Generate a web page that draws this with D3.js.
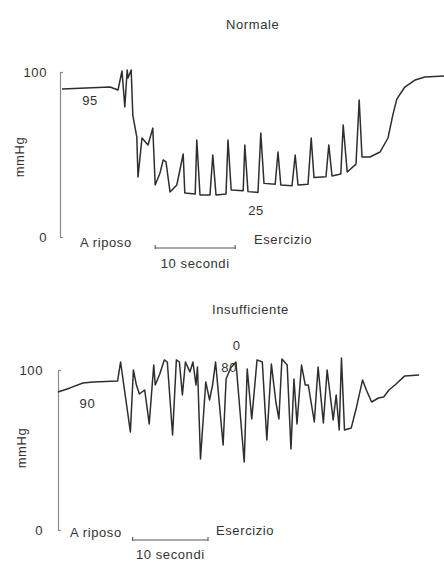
<!DOCTYPE html>
<meta charset="utf-8">
<html>
<head>
<style>
  body { margin: 0; background: #fff; }
  svg text { font-family: "Liberation Sans", Arial, sans-serif; font-size: 13px; letter-spacing: 0.6px; fill: #333; }
  .trace { fill: none; stroke: #2e2e2e; stroke-width: 1.5; stroke-linejoin: round; }
  .axis path, .axis line { stroke: #8a8a8a; stroke-width: 1.2; }
  .bar { stroke: #555; stroke-width: 1.1; }
</style>
<script src="https://d3js.org/d3.v7.min.js"></script>
</head>
<body>
<svg width="444" height="561"></svg>
<script>

// pressure values (s, mmHg)
var topTime = [0.25, 6.25, 7.25, 7.75, 8.1, 8.4, 8.5, 8.9, 9.1, 9.6, 9.75, 10.25, 11, 11.6, 11.9,
  12.5, 12.9, 13.25, 13.75, 14.6, 15.4, 15.6, 16.9, 17.1, 17.5, 18.75, 19.1, 19.5, 20.75, 21,
  21.4, 22.9, 23.1, 23.5, 24.75, 25.1, 25.5, 26.9, 27.25, 27.6, 29, 29.4, 29.75, 31, 31.4, 31.75,
  33.25, 33.6, 34, 35.1, 35.4, 35.9, 37, 37.4, 37.75, 38.75, 40, 41, 41.6, 42.1, 43.1, 44.4, 45.6, 48];
var topPressure = [89.7, 90.9, 89.1, 100.6, 78.8, 101.2, 96.4, 101.2, 73.9, 60.6, 36.4, 60, 55.8, 66, 31.5,
  38.8, 46.7, 45.5, 27.3, 31.5, 50.3, 26.7, 26, 58.8, 25.5, 25.5, 49.7, 25.5, 26, 58.8,
  28.5, 28, 55.8, 27.5, 27, 63, 32.5, 32, 51.5, 31.5, 31, 49.7, 31.5, 32, 60, 36,
  36.5, 55.8, 37, 38.2, 67.9, 39.4, 44.2, 83, 48.5, 48.5, 51.5, 60, 73.9, 83.6, 90.9, 95.2, 97, 97.6];

var bottomTime = [0, 1.6, 3.3, 4.7, 7.9, 8.3, 9.6, 10, 10.4, 10.8, 11.5, 12.1, 12.7, 12.9, 13.5, 14.1,
  14.5, 15.2, 15.7, 16.1, 16.5, 16.9, 17.5, 17.9, 18.3, 18.5, 18.9, 19.6, 20.1, 20.5, 20.9, 21.9,
  22.3, 22.9, 23.6, 24.7, 25.1, 25.7, 26.4, 27.1, 27.7, 28.3, 28.9, 29.3, 29.7, 30.4, 30.9, 31.3,
  31.7, 32.3, 32.8, 33.2, 34, 34.5, 35.2, 35.7, 36.5, 36.9, 37.3, 37.6, 38, 38.9, 39.6, 40.4, 40.9,
  41.6, 42.5, 43.2, 43.9, 44.7, 46, 47.9];
var bottomPressure = [86.3, 88.8, 91.9, 92.5, 93.1, 105, 61.3, 100, 90.6, 85, 87.5, 66.3, 103.1, 90.6, 97.5, 106.3,
  105, 59.4, 106.3, 105, 84.4, 105, 98.8, 105, 90.6, 101.9, 44.4, 92.5, 81.3, 90.6, 105, 53.1,
  94.4, 101.3, 105, 42.5, 100.6, 69.4, 106.3, 105, 56.3, 103.8, 80, 69.4, 106.9, 103.1, 50.6, 94.4,
  66.3, 103.1, 90.6, 90.6, 67.5, 101.9, 66.9, 100, 68.8, 84.4, 62.5, 107.5, 62.5, 63.8, 76.9, 93.8, 87.5,
  80, 82.5, 83.1, 87.5, 90.6, 96.3, 96.9];

var yTicks = [0, 100];
var titles = ["Normale", "Insufficiente"];
var restLabel = "A riposo", workLabel = "Esercizio", barLabel = "10 secondi", unitLabel = "mmHg";

var svg = d3.select("svg");

function drawPanel(opt) {
  var x = d3.scaleLinear().domain([0, opt.tMax]).range([opt.left, 444]);
  var y = d3.scaleLinear().domain([0, 100]).range([opt.bottom, opt.top]);
  var g = svg.append("g");

  g.append("g")
    .attr("class", "axis")
    .attr("transform", "translate(" + opt.left + ",0)")
    .call(d3.axisLeft(y).tickValues(yTicks).tickSizeInner(-3).tickSizeOuter(0).tickPadding(opt.pad))
    .call(function(a) { a.selectAll("text").style("fill", "#333"); });

  g.append("text")
    .attr("transform", "translate(" + opt.unitX + "," + opt.unitY + ") rotate(-90)")
    .attr("text-anchor", "middle")
    .attr("dominant-baseline", "central")
    .text(unitLabel);

  var pts = opt.time.map(function(t, i) { return [t, opt.pressure[i]]; });
  var line = d3.line()
    .x(function(d) { return x(d[0]); })
    .y(function(d) { return y(d[1]); });

  g.append("path").attr("class", "trace").attr("d", line(pts));

  g.append("text").attr("x", opt.titleX).attr("y", opt.titleY).text(opt.title);

  // scale bar: 10 s
  var by = opt.barY;
  g.append("line").attr("class", "bar")
    .attr("x1", x(opt.barT)).attr("x2", x(opt.barT + 10)).attr("y1", by).attr("y2", by);
  [opt.barT, opt.barT + 10].forEach(function(t) {
    g.append("line").attr("class", "bar")
      .attr("x1", x(t)).attr("x2", x(t)).attr("y1", by - 3).attr("y2", by + 1);
  });
  g.append("text").attr("x", x(opt.barT + 5)).attr("y", opt.barTextY)
    .attr("text-anchor", "middle").text(barLabel);

  g.append("text").attr("x", opt.restX).attr("y", opt.restY).text(restLabel);
  g.append("text").attr("x", opt.workX).attr("y", opt.workY).text(workLabel);

  opt.notes.forEach(function(n) {
    g.append("text").attr("x", x(n[0])).attr("y", y(n[1]))
      .attr("text-anchor", "middle").text(n[2]);
  });
}

drawPanel({
  time: topTime, pressure: topPressure, title: titles[0],
  tMax: 48, left: 60, top: 72, bottom: 237, pad: 13,
  unitX: 19, unitY: 157, titleX: 226, titleY: 29,
  barT: 11.9, barY: 248, barTextY: 268,
  restX: 80, restY: 247, workX: 254, workY: 244,
  notes: [[3.75, 80, "95"], [24.5, 13.5, "25"]]
});

drawPanel({
  time: bottomTime, pressure: bottomPressure, title: titles[1],
  tMax: 51.2, left: 58, top: 370, bottom: 530, pad: 15,
  unitX: 21, unitY: 448, titleX: 212, titleY: 314,
  barT: 9.9, barY: 540, barTextY: 559,
  restX: 70, restY: 537, workX: 216, workY: 535,
  notes: [[3.9, 76, "90"], [23.7, 112.5, "0"], [22.7, 98.8, "80"]]
});

</script>
</body>
</html>
